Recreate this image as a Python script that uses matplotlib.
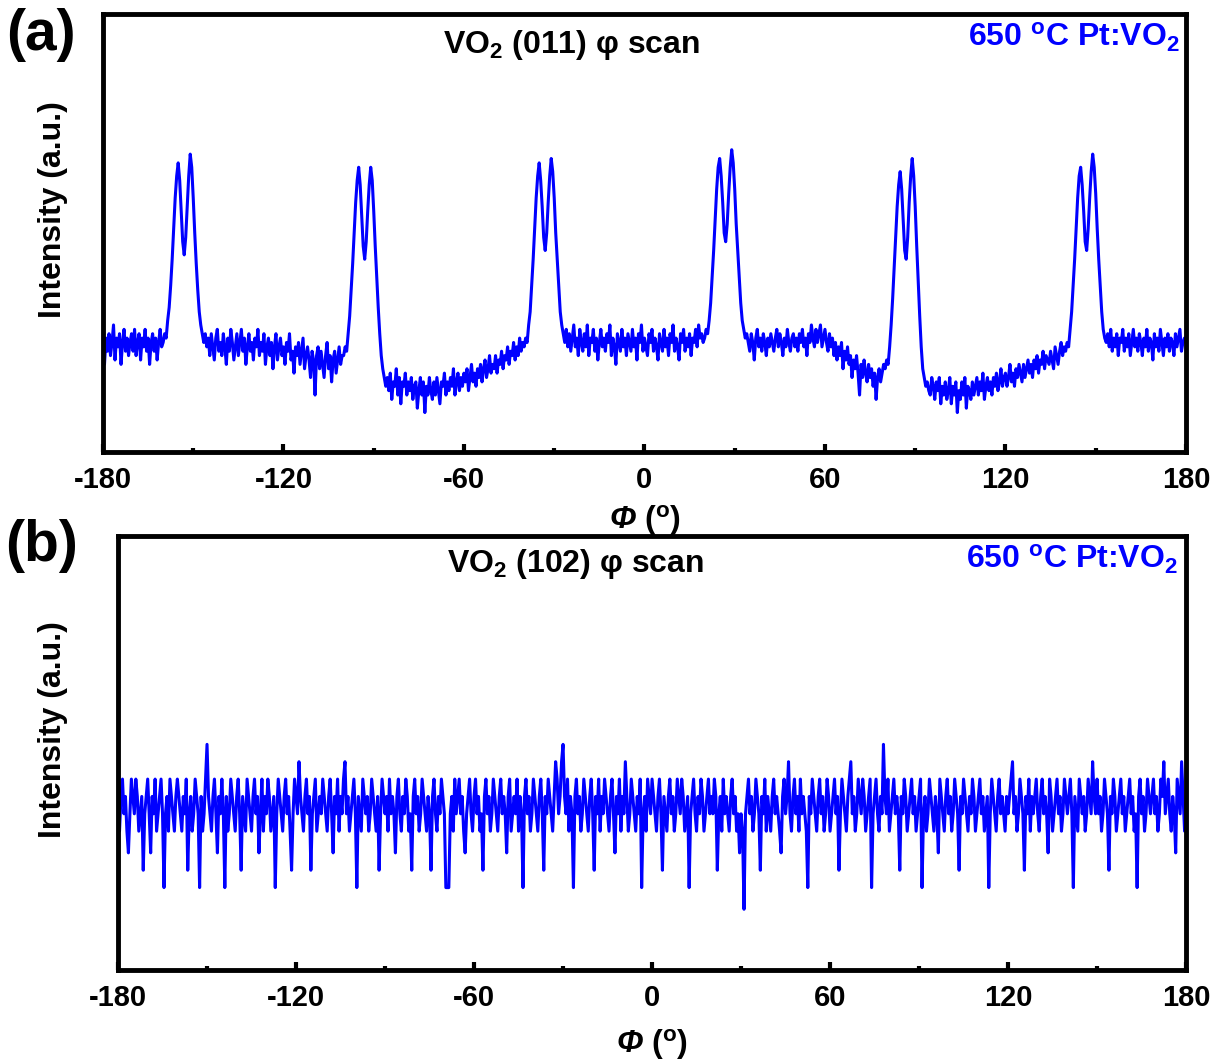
import numpy as np
import matplotlib
matplotlib.use('Agg')
import matplotlib.pyplot as plt
from matplotlib.ticker import MultipleLocator

plt.rcParams['font.family'] = ['Liberation Sans', 'DejaVu Sans']
plt.rcParams['font.weight'] = 'bold'
plt.rcParams['axes.unicode_minus'] = False
plt.rcParams['mathtext.fontset'] = 'custom'
plt.rcParams['mathtext.rm'] = 'Liberation Sans:bold'
plt.rcParams['mathtext.bf'] = 'Liberation Sans:bold'
plt.rcParams['mathtext.it'] = 'Liberation Sans:bold:italic'
plt.rcParams['mathtext.sf'] = 'Liberation Sans:bold:italic'

# phi axis, 0.5 degree step
phi = np.arange(-180, 180.5, 0.5)

# (a) VO2 (011) phi scan, intensity (arb. units)
int_011 = [
    # -180 .. -160.5
    33, 20, 26, 23, 27, 22, 25, 29, 21, 26,
    24, 27, 20, 25, 28, 23, 26, 22, 25, 27,
    23, 28, 22, 25, 27, 21, 26, 24, 28, 23,
    26, 20, 25, 27, 23, 26, 21, 25, 28, 24,
    # peak near -153
    25, 27, 26, 30, 33, 38, 44, 51, 58, 63,
    66, 62, 55, 48, 45, 49, 56, 63, 68, 65,
    58, 50, 43, 37, 32, 29, 27, 25, 27, 24,
    # -145 .. -100.5
    26, 22, 27, 24, 21, 26, 28, 23, 25, 22,
    27, 24, 20, 26, 23, 28, 25, 21, 24, 27,
    22, 25, 28, 23, 26, 20, 24, 27, 23, 25,
    21, 26, 24, 28, 22, 25, 23, 27, 20, 24,
    26, 22, 25, 19, 24, 27, 21, 24, 26, 22,
    24, 20, 25, 23, 27, 21, 23, 18, 24, 22,
    25, 20, 23, 26, 19, 22, 24, 21, 17, 23,
    21, 13, 22, 24, 19, 23, 20, 17, 22, 25,
    19, 22, 16, 21, 23, 18, 21, 24, 20, 22,
    # peak near -93
    22, 24, 23, 27, 31, 37, 43, 50, 57, 62,
    65, 61, 54, 47, 44, 48, 55, 61, 65, 62,
    55, 47, 40, 33, 27, 22, 19, 17, 15, 17,
    # -85 .. -40.5
    14, 18, 12, 16, 15, 19, 13, 17, 11, 16,
    15, 18, 13, 16, 14, 17, 12, 15, 16, 10,
    14, 17, 13, 16, 9, 15, 13, 17, 14, 12,
    16, 13, 17, 14, 11, 16, 15, 18, 13, 16,
    14, 17, 15, 19, 13, 16, 18, 14, 17, 15,
    18, 16, 19, 14, 17, 20, 16, 18, 15, 19,
    17, 20, 16, 19, 21, 17, 19, 22, 18, 20,
    19, 22, 18, 21, 20, 23, 19, 22, 21, 24,
    20, 23, 22, 25, 21, 24, 22, 26, 23, 25,
    # peak near -33
    24, 26, 25, 29, 32, 38, 44, 51, 58, 63,
    66, 62, 56, 49, 46, 50, 57, 63, 67, 64,
    58, 50, 44, 38, 32, 29, 27, 25, 28, 24,
    # -25 .. 19.5
    27, 23, 26, 29, 24, 26, 22, 28, 25, 23,
    27, 24, 29, 22, 26, 25, 28, 23, 26, 21,
    25, 28, 24, 26, 23, 27, 25, 29, 22, 26,
    24, 20, 27, 25, 23, 28, 24, 26, 22, 27,
    25, 23, 28, 24, 26, 21, 27, 25, 29, 23,
    26, 24, 22, 27, 25, 28, 23, 26, 24, 21,
    27, 25, 23, 28, 24, 26, 22, 27, 25, 29,
    23, 26, 24, 21, 27, 25, 28, 23, 26, 24,
    27, 22, 26, 25, 28, 24, 29, 26, 27, 25,
    # peak near 27
    26, 28, 27, 30, 34, 40, 46, 53, 60, 65,
    67, 63, 57, 50, 48, 52, 59, 65, 69, 66,
    60, 52, 46, 40, 34, 30, 28, 26, 27, 25,
    # 35 .. 79.5
    23, 27, 25, 21, 26, 28, 24, 26, 23, 27,
    25, 22, 26, 24, 27, 25, 23, 26, 28, 24,
    27, 25, 22, 26, 24, 28, 25, 23, 26, 27,
    24, 26, 23, 27, 25, 28, 24, 26, 22, 27,
    25, 29, 26, 24, 28, 25, 27, 29, 24, 26,
    28, 25, 23, 27, 24, 26, 22, 25, 21, 24,
    22, 25, 19, 23, 21, 24, 20, 22, 17, 21,
    19, 22, 18, 13, 20, 17, 21, 18, 16, 20,
    17, 19, 15, 18, 12, 17, 19, 16, 18, 20,
    # peak near 87
    19, 21, 20, 24, 29, 35, 42, 49, 56, 61,
    64, 60, 53, 46, 44, 49, 57, 63, 67, 63,
    56, 47, 39, 31, 24, 19, 17, 15, 16, 14,
    # 95 .. 139.5
    13, 17, 15, 12, 16, 14, 17, 11, 15, 13,
    16, 12, 14, 17, 11, 15, 13, 16, 9, 14,
    12, 16, 13, 17, 10, 15, 14, 12, 16, 13,
    15, 17, 13, 16, 14, 18, 12, 15, 17, 14,
    16, 13, 17, 15, 18, 14, 16, 19, 15, 17,
    18, 15, 17, 20, 16, 18, 15, 19, 17, 20,
    18, 16, 20, 17, 19, 21, 18, 20, 17, 21,
    19, 22, 18, 21, 20, 23, 19, 22, 21, 20,
    23, 21, 19, 24, 22, 20, 23, 25, 22, 24,
    # peak near 147
    23, 25, 24, 28, 32, 38, 44, 51, 58, 63,
    65, 61, 55, 48, 46, 51, 58, 64, 68, 65,
    59, 51, 44, 38, 32, 28, 26, 25, 27, 24,
    # 155 .. 180
    28, 23, 26, 24, 27, 22, 26, 25, 28, 23,
    26, 24, 27, 22, 25, 28, 24, 26, 23, 27,
    25, 22, 26, 24, 28, 23, 26, 25, 21, 27,
    24, 26, 23, 28, 25, 22, 26, 24, 27, 23,
    26, 25, 22, 27, 24, 26, 28, 23, 25, 26,
    25,
]

# (b) VO2 (102) phi scan, intensity (arb. units)
int_102 = [
    36, 32, 40, 44, 36, 40, 32, 27, 36, 44,   # -180
    40, 36, 44, 40, 32, 36, 40, 23, 36, 40,
    44, 36, 27, 40, 36, 44, 32, 36, 40, 44,   # -170
    36, 19, 36, 40, 32, 44, 40, 36, 32, 40,
    44, 40, 36, 32, 40, 36, 44, 23, 36, 40,   # -160
    32, 36, 44, 40, 36, 19, 40, 32, 36, 44,
    52, 40, 36, 32, 40, 44, 36, 27, 40, 36,   # -150
    44, 36, 19, 40, 32, 36, 44, 40, 36, 32,
    40, 44, 36, 23, 40, 36, 32, 44, 40, 36,   # -140
    32, 40, 44, 36, 40, 27, 36, 44, 32, 40,
    36, 44, 40, 32, 36, 40, 19, 36, 44, 40,   # -130
    36, 32, 40, 44, 36, 40, 32, 23, 36, 44,
    40, 36, 48, 40, 36, 32, 40, 44, 36, 40,   # -120
    23, 36, 40, 44, 32, 36, 40, 36, 44, 40,
    36, 32, 40, 44, 36, 27, 40, 36, 44, 32,   # -110
    40, 36, 44, 48, 36, 40, 32, 36, 40, 44,
    36, 19, 40, 36, 32, 44, 40, 36, 40, 32,   # -100
    36, 44, 40, 36, 32, 40, 23, 36, 44, 40,
    36, 40, 32, 44, 36, 40, 36, 27, 40, 44,   # -90
    36, 32, 40, 36, 44, 40, 32, 36, 23, 40,
    44, 36, 40, 32, 36, 44, 40, 36, 32, 40,   # -80
    36, 23, 40, 44, 36, 32, 40, 36, 44, 40,
    36, 19, 19, 19, 36, 40, 32, 44, 36, 40,   # -70
    44, 36, 40, 32, 27, 36, 40, 44, 36, 32,
    40, 44, 36, 40, 32, 36, 23, 40, 44, 36,   # -60
    40, 32, 36, 44, 40, 36, 32, 40, 44, 36,
    40, 36, 27, 40, 44, 32, 36, 40, 36, 44,   # -50
    32, 40, 36, 19, 40, 44, 36, 40, 32, 36,
    44, 40, 36, 32, 40, 44, 36, 23, 40, 36,   # -40
    44, 40, 36, 32, 40, 48, 44, 36, 40, 48,
    52, 40, 36, 44, 32, 40, 36, 19, 40, 44,   # -30
    36, 40, 32, 36, 44, 40, 36, 32, 40, 44,
    36, 23, 40, 36, 44, 32, 40, 36, 44, 40,   # -20
    36, 32, 40, 44, 36, 27, 40, 36, 44, 32,
    40, 36, 48, 40, 32, 36, 44, 40, 36, 32,   # -10
    40, 36, 44, 19, 36, 40, 32, 44, 40, 36,
    44, 40, 36, 32, 40, 44, 36, 23, 40, 36,   # 0
    32, 40, 44, 36, 40, 32, 36, 44, 40, 36,
    44, 40, 32, 36, 40, 19, 36, 40, 44, 36,   # 10
    32, 40, 36, 44, 40, 32, 36, 40, 44, 36,
    40, 36, 44, 40, 23, 36, 40, 32, 44, 36,   # 20
    40, 36, 32, 40, 44, 36, 40, 32, 36, 27,
    36, 32, 14, 36, 40, 44, 36, 40, 32, 36,   # 30
    44, 40, 36, 23, 40, 36, 44, 32, 40, 36,
    32, 40, 44, 36, 40, 36, 32, 27, 40, 44,   # 40
    36, 40, 48, 36, 32, 40, 44, 36, 40, 32,
    44, 36, 40, 36, 32, 19, 40, 36, 44, 40,   # 50
    36, 32, 40, 44, 36, 40, 32, 36, 44, 40,
    32, 36, 40, 44, 36, 40, 23, 36, 44, 40,   # 60
    36, 32, 40, 44, 48, 36, 40, 32, 36, 44,
    40, 36, 44, 40, 32, 36, 40, 44, 19, 36,   # 70
    40, 44, 36, 32, 40, 36, 52, 40, 36, 44,
    32, 36, 40, 44, 36, 40, 36, 23, 40, 36,   # 80
    44, 40, 32, 36, 40, 44, 36, 40, 32, 36,
    40, 44, 19, 36, 40, 32, 36, 44, 40, 36,   # 90
    32, 40, 36, 27, 44, 40, 36, 32, 40, 44,
    36, 40, 32, 36, 44, 40, 36, 23, 40, 36,   # 100
    44, 40, 36, 32, 40, 36, 44, 40, 32, 36,
    40, 44, 36, 40, 32, 36, 40, 19, 36, 44,   # 110
    40, 36, 32, 40, 44, 36, 40, 36, 32, 40,
    36, 40, 44, 48, 36, 40, 32, 36, 44, 40,   # 120
    36, 23, 40, 36, 44, 32, 40, 36, 40, 44,
    36, 32, 40, 44, 36, 40, 36, 27, 44, 40,   # 130
    32, 36, 40, 44, 36, 40, 32, 36, 44, 40,
    36, 40, 44, 36, 19, 40, 36, 32, 44, 40,   # 140
    36, 40, 32, 36, 44, 40, 36, 48, 40, 36,
    44, 36, 40, 32, 36, 44, 40, 36, 23, 40,   # 150
    36, 44, 40, 32, 36, 40, 44, 36, 40, 32,
    36, 40, 44, 36, 40, 32, 36, 19, 40, 44,   # 160
    36, 40, 32, 36, 44, 40, 36, 40, 44, 36,
    40, 32, 36, 44, 40, 48, 36, 40, 44, 36,   # 170
    32, 40, 36, 27, 44, 40, 36, 48, 40, 32,
    36,                                       # 180
]

x_ticks = [-180, -120, -60, 0, 60, 120, 180]
titles = [r'VO$_{\mathbf{2}}$ (011) φ scan', r'VO$_{\mathbf{2}}$ (102) φ scan']
sample = r'650 $^{\mathbf{o}}$C Pt:VO$_{\mathbf{2}}$'
panel_tags = ['(a)', '(b)']

fig = plt.figure(figsize=(12.13, 10.64), dpi=100)
ax_a = fig.add_axes([0.0849, 0.5752, 0.8928, 0.4117])
ax_b = fig.add_axes([0.0973, 0.0883, 0.8805, 0.4079])

setup = [
    (ax_a, int_011, (0.4326, 0.929), (0.9945, 0.985), (-0.032, 0.553), -0.116),
    (ax_b, int_102, (0.428, 0.935), (0.9925, 0.985), (-0.047, 0.553), -0.131),
]

for i, (ax, y, tpos, spos, ylpos, xly) in enumerate(setup):
    ax.plot(phi, y, color='#0000ff', lw=2.2)
    ax.set_xlim(-180, 180)
    ax.set_ylim(0, 100)
    ax.set_xticks(x_ticks)
    ax.xaxis.set_minor_locator(MultipleLocator(30))
    ax.set_yticks([])
    ax.tick_params(axis='x', which='major', direction='in', length=6, width=3,
                   labelsize=21, pad=10)
    ax.tick_params(axis='x', which='minor', direction='in', length=3, width=3)
    for lbl in ax.get_xticklabels():
        lbl.set_fontweight('bold')
    for sp in ax.spines.values():
        sp.set_linewidth(3.5)
    ax.text(tpos[0], tpos[1], titles[i], transform=ax.transAxes, ha='center',
            va='center', fontsize=23, fontweight='bold')
    ax.text(spos[0], spos[1], sample, transform=ax.transAxes, ha='right',
            va='top', fontsize=23, fontweight='bold', color='#0000ff')
    ax.set_ylabel('Intensity (a.u.)', fontsize=23, fontweight='bold')
    ax.yaxis.set_label_coords(*ylpos)
    ax.set_xlabel(r'$\mathsf{\Phi}$ ($^{\mathbf{o}}$)', fontsize=23,
                  fontweight='bold')
    ax.xaxis.set_label_coords(0.5, xly)

fig.text(0.034, 0.967, panel_tags[0], fontsize=41, fontweight='bold',
         ha='center', va='center')
fig.text(0.034, 0.487, panel_tags[1], fontsize=41, fontweight='bold',
         ha='center', va='center')

fig.savefig('out.png', dpi=100)
